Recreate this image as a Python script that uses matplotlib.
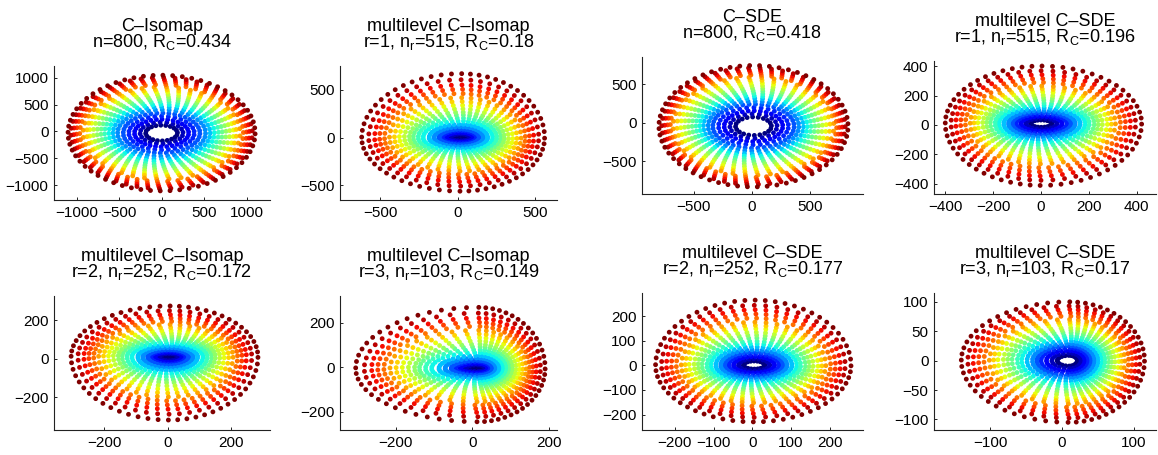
import numpy as np
import matplotlib
matplotlib.use("Agg")
import matplotlib.pyplot as plt

plt.rcParams['font.family'] = ['Liberation Sans', 'DejaVu Sans']
plt.rcParams['mathtext.fontset'] = 'custom'
plt.rcParams['mathtext.rm'] = 'Liberation Sans'

# Panel texts
TITLES = ["C\u2013Isomap", "multilevel C\u2013Isomap", "C\u2013SDE", "multilevel C\u2013SDE",
          "multilevel C\u2013Isomap", "multilevel C\u2013Isomap", "multilevel C\u2013SDE", "multilevel C\u2013SDE"]
SUBTITLES = [r"n=800, R$_\mathregular{C}$=0.434",
             r"r=1, n$_\mathregular{r}$=515, R$_\mathregular{C}$=0.18",
             r"n=800, R$_\mathregular{C}$=0.418",
             r"r=1, n$_\mathregular{r}$=515, R$_\mathregular{C}$=0.196",
             r"r=2, n$_\mathregular{r}$=252, R$_\mathregular{C}$=0.172",
             r"r=3, n$_\mathregular{r}$=103, R$_\mathregular{C}$=0.149",
             r"r=2, n$_\mathregular{r}$=252, R$_\mathregular{C}$=0.177",
             r"r=3, n$_\mathregular{r}$=103, R$_\mathregular{C}$=0.17"]

# points per ring (inner -> outer), 800 in total
RING_COUNTS = [20, 20, 30, 30, 40, 40, 40, 40, 40, 40, 40, 40, 40, 40, 40, 50, 50, 50, 50, 60]

# normalised ring radii
RADII_ISO = [0.17, 0.23, 0.29, 0.35, 0.41, 0.47, 0.52, 0.565, 0.61, 0.65,
             0.69, 0.73, 0.77, 0.80, 0.84, 0.875, 0.91, 0.94, 0.97, 1.0]
RADII_SDE = [0.19, 0.25, 0.31, 0.37, 0.43, 0.48, 0.53, 0.57, 0.61, 0.65,
             0.69, 0.73, 0.77, 0.81, 0.85, 0.88, 0.91, 0.94, 0.97, 1.0]
RADII_ML_ISO = [0.07, 0.11, 0.15, 0.19, 0.22, 0.27, 0.32, 0.38, 0.43, 0.48,
                0.52, 0.57, 0.62, 0.67, 0.72, 0.77, 0.82, 0.87, 0.93, 1.0]
RADII_ML_SDE = [0.11, 0.16, 0.21, 0.26, 0.30, 0.34, 0.39, 0.44, 0.48, 0.53,
                0.57, 0.61, 0.66, 0.70, 0.74, 0.79, 0.84, 0.89, 0.94, 1.0]
RADII = [RADII_ISO, RADII_ML_ISO, RADII_SDE, RADII_ML_SDE,
         RADII_ML_ISO, RADII_ML_ISO, RADII_ML_SDE, RADII_ML_SDE]

# centre and outer extent (right, top, left, bottom) per panel
CENTERS = [(0, -30), (20, 0), (15, -45), (0, 10), (5, 10), (15, -5), (5, 0), (10, 0)]
EXTENTS = [(1100, 1080, 1100, 1080), (540, 670, 640, 560), (815, 785, 815, 785),
           (420, 390, 400, 420), (280, 265, 310, 330), (175, 275, 320, 240),
           (250, 265, 255, 230), (105, 100, 150, 105)]
FLAT = [0.8, 0.5, 0.8, 0.55, 0.55, 0.5, 0.6, 0.8]
TWIST = [0.3, 0.2, 0.25, 0.2, 0.2, 0.2, 0.2, 0.2]

XLIMS = [(-1265, 1275), (-760, 640), (-946, 959), (-447, 480),
         (-359, 323), (-346, 221), (-285, 286), (-178, 131)]
YLIMS = [(-1280, 1222), (-652, 750), (-922, 850), (-468, 434),
         (-372, 327), (-282, 321), (-263, 294), (-118, 115)]
XTICKS = [[-1000, -500, 0, 500, 1000], [-500, 0, 500], [-500, 0, 500], [-400, -200, 0, 200, 400],
          [-200, 0, 200], [-200, 0, 200], [-200, -100, 0, 100, 200], [-100, 0, 100]]
YTICKS = [[-1000, -500, 0, 500, 1000], [-500, 0, 500], [-500, 0, 500], [-400, -200, 0, 200, 400],
          [-200, 0, 200], [-200, 0, 200], [-200, -100, 0, 100, 200], [-100, -50, 0, 50, 100]]


def build_points(i):
    cx, cy = CENTERS[i]
    er, et, el, eb = EXTENTS[i]
    nr = len(RING_COUNTS)
    xs, ys, cs = [], [], []
    for k, (cnt, r) in enumerate(zip(RING_COUNTS, RADII[i])):
        t = 2 * np.pi * np.arange(cnt) / cnt + TWIST[i] * r
        ct, st = np.cos(t), np.sin(t)
        flat = FLAT[i] + (1 - FLAT[i]) * k / (nr - 1)
        xs.append(cx + r * ct * np.where(ct > 0, er, el))
        ys.append(cy + r * st * np.where(st > 0, et, eb) * flat)
        cs.append(np.full(cnt, k / (nr - 1)))
    return np.concatenate(xs), np.concatenate(ys), np.concatenate(cs)


# axes boxes in pixels: left, right, top, bottom
BOXES = [(54, 270, 66, 200), (340, 557, 66, 200), (642, 863, 57, 194), (934, 1156, 61, 194),
         (54, 270, 296, 430), (340, 557, 296, 430), (642, 863, 293, 430), (934, 1156, 293, 430)]

W, H = 1158, 455
fig = plt.figure(figsize=(W / 100, H / 100), dpi=100)

for i, (l, r, t, b) in enumerate(BOXES):
    ax = fig.add_axes([l / W, (H - b) / H, (r - l) / W, (b - t) / H])
    x, y, c = build_points(i)
    ax.scatter(x, y, c=c, cmap='jet', vmin=0, vmax=1, s=12, linewidths=0)
    ax.set_xlim(XLIMS[i])
    ax.set_ylim(YLIMS[i])
    ax.set_xticks(XTICKS[i])
    ax.set_yticks(YTICKS[i])
    for side in ('top', 'right'):
        ax.spines[side].set_visible(False)
    for side in ('left', 'bottom'):
        ax.spines[side].set_linewidth(0.8)
        ax.spines[side].set_color('#222222')
    ax.tick_params(direction='in', length=2, width=0.6, labelsize=11, pad=4)
    ax.set_title(TITLES[i] + "\n" + SUBTITLES[i], fontsize=13, pad=14, linespacing=0.78)

fig.savefig("out.png", dpi=100)
